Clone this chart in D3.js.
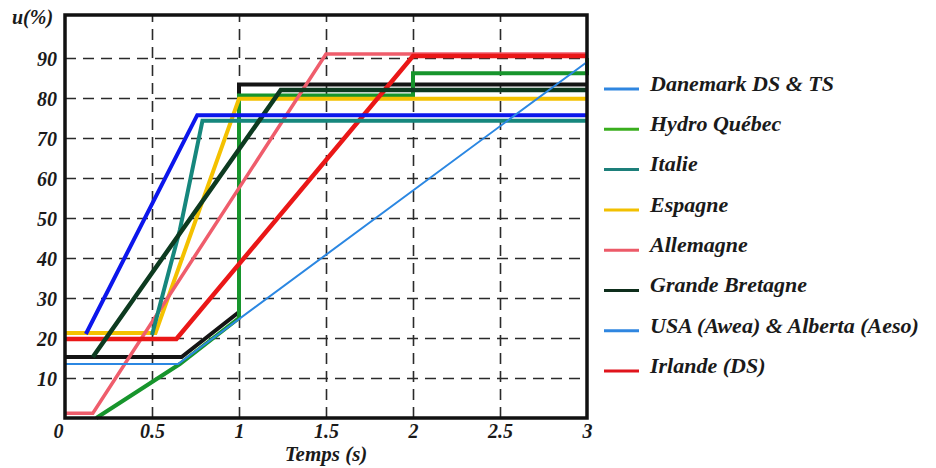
<!DOCTYPE html>
<html>
<head>
<meta charset="utf-8">
<script src="https://cdn.jsdelivr.net/npm/d3@7"></script>
<style>
  html, body { margin: 0; padding: 0; background: #ffffff; }
  svg { display: block; }
</style>
</head>
<body>
<svg id="chart" width="936" height="468"></svg>
<script>
// ---------- data ----------
const xTicks = [0, 0.5, 1, 1.5, 2, 2.5, 3];
const xTickLabels = ["0", "0.5", "1", "1.5", "2", "2.5", "3"];
const yTicks = [10, 20, 30, 40, 50, 60, 70, 80, 90];

const legendNames = [
  "Danemark DS & TS", "Hydro Québec", "Italie", "Espagne",
  "Allemagne", "Grande Bretagne", "USA (Awea) & Alberta (Aeso)", "Irlande (DS)"
];
const legendColors = ["#2f86e0", "#3aae1e", "#1d7f7a", "#f2c000", "#ec5a68", "#0e2e1c", "#2f86e0", "#e0141c"];

// series points [time (s), u (%)]
const blackLine     = [[0, 15.25], [0.67, 15.25], [1, 26.5], [1, 83.4], [3, 83.4]];
const hydroQuebec   = [[0.18, 0], [0.66, 13.5], [1, 25], [1, 80.6], [2, 80.6], [2, 86.2], [3, 86.2], [3, 90]];
const espagne       = [[0, 21.25], [0.52, 21.25], [1.0, 79.8], [3, 79.8]];
const allemagne     = [[0, 1.2], [0.16, 1.2], [1.5, 91], [3, 91]];
const irlande       = [[0, 19.75], [0.64, 19.75], [2, 90.5], [3, 90.5]];
const italie        = [[0.5, 20.75], [0.66, 47], [0.79, 74.3], [3, 74.3]];
const grandeBretagne= [[0.16, 15.25], [1.24, 82], [3, 82]];
const danemark      = [[0.12, 21], [0.76, 75.7], [3, 75.7]];
const usaAlberta    = [[0, 13.5], [0.65, 13.5], [3, 89]];

const seriesData   = [blackLine, hydroQuebec, espagne, allemagne, irlande, italie, grandeBretagne, danemark, usaAlberta];
const seriesColors = ["#141414", "#17952c", "#f4c100", "#ef5d6c", "#ea1717", "#16877d", "#0d3a20", "#0c16ec", "#2b87e2"];
const seriesWidths = [4, 4, 4, 3.5, 4.5, 4, 4.5, 4, 2];

// ---------- layout ----------
const FONT = "'Liberation Serif', 'Times New Roman', Times, 'DejaVu Serif', serif";
const styleText = sel => sel
  .attr("font-family", FONT)
  .style("font-family", FONT)
  .style("font-style", "italic")
  .style("font-weight", "bold")
  .attr("fill", "#1a1a1a");

const svg = d3.select("#chart");
const x = d3.scaleLinear().domain([0, 3]).range([65, 587]);
const y = d3.scaleLinear().domain([0, 100]).range([418, 18]);

// gridlines
svg.append("g")
  .attr("transform", `translate(0,${y(0)})`)
  .call(d3.axisBottom(x).tickValues(xTicks.slice(1, -1)).tickSize(-(y(0) - 15)).tickFormat(""))
  .call(g => g.select(".domain").remove())
  .call(g => g.selectAll("line").attr("stroke", "#2a2a2a").attr("stroke-width", 1.6).attr("stroke-dasharray", "11,7"));
svg.append("g")
  .attr("transform", `translate(${x(0)},0)`)
  .call(d3.axisLeft(y).tickValues(yTicks).tickSize(-(x(3) - x(0))).tickFormat(""))
  .call(g => g.select(".domain").remove())
  .call(g => g.selectAll("line").attr("stroke", "#2a2a2a").attr("stroke-width", 1.6).attr("stroke-dasharray", "11,7"));

// series lines
const line = d3.line().x(d => x(d[0])).y(d => y(d[1]));
seriesData.forEach((pts, i) => {
  svg.append("path")
    .datum(pts)
    .attr("d", line)
    .attr("fill", "none")
    .attr("stroke", seriesColors[i])
    .attr("stroke-width", seriesWidths[i])
    .attr("stroke-linejoin", "miter");
});

// frame
svg.append("rect")
  .attr("x", x(0)).attr("y", 15)
  .attr("width", x(3) - x(0)).attr("height", y(0) - 15)
  .attr("fill", "none").attr("stroke", "#111").attr("stroke-width", 3.5);

// axis labels
const yAxis = svg.append("g")
  .attr("transform", `translate(${x(0)},0)`)
  .call(d3.axisLeft(y).tickValues(yTicks).tickSize(0).tickPadding(8).tickFormat(d3.format("d")));
yAxis.select(".domain").remove();
yAxis.selectAll("text").call(styleText).style("font-size", "20px").attr("dy", "0.35em");

const xAxis = svg.append("g")
  .attr("transform", `translate(0,${y(0)})`)
  .call(d3.axisBottom(x).tickValues(xTicks).tickSize(0).tickPadding(6).tickFormat((d, i) => xTickLabels[i]));
xAxis.select(".domain").remove();
xAxis.selectAll("text").call(styleText).style("font-size", "20px");
xAxis.selectAll(".tick").filter(d => d === 0).select("text").attr("x", -7);

svg.append("text").call(styleText).attr("x", 12).attr("y", 24).style("font-size", "20px").text("u(%)");
svg.append("text").call(styleText).attr("x", x(1.5)).attr("y", 461).attr("text-anchor", "middle").style("font-size", "21px").text("Temps (s)");

// legend
const legend = svg.append("g");
legendNames.forEach((name, i) => {
  const ly = 89 + i * 40.3;
  legend.append("line").attr("x1", 604).attr("x2", 639).attr("y1", ly).attr("y2", ly)
    .attr("stroke", legendColors[i]).attr("stroke-width", 3);
  legend.append("text").call(styleText).attr("x", 650).attr("y", ly - 6).attr("dy", "0.35em")
    .style("font-size", "22px").text(name);
});
</script>
</body>
</html>
